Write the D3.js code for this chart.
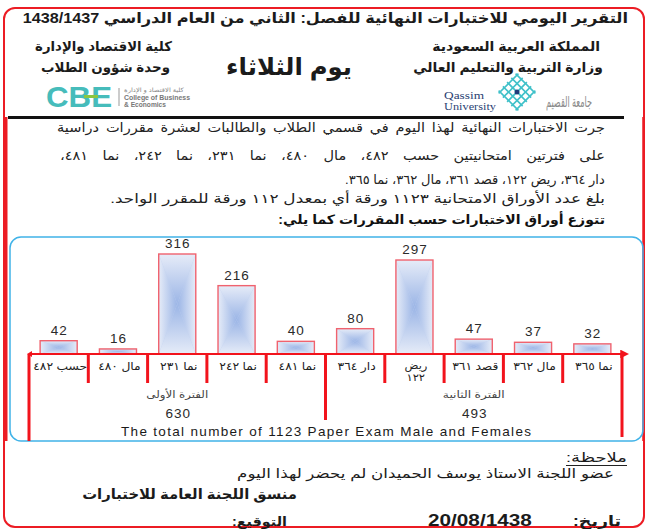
<!DOCTYPE html>
<html><head><meta charset="utf-8">
<script src="https://cdn.jsdelivr.net/npm/d3@7"></script>
<style>body{margin:0;background:#fff} svg{display:block}</style>
</head><body>
<svg id="c" width="649" height="529"></svg>
<script>
// ---------------- data ----------------
const categories = ["حسب ٤٨٢","مال ٤٨٠","نما ٢٣١","نما ٢٤٢","نما ٤٨١","دار ٣٦٤","ريض ١٢٢","قصد ٣٦١","مال ٣٦٢","نما ٣٦٥"];
const values = [42,16,316,216,40,80,297,47,37,32];
const periods = ["الفترة الأولى","الفترة الثانية"];
const periodSizes = [5,5];
const periodTotals = [630,493];
const totalCaption = "The total number of 1123 Paper Exam Male and Females";

const titleText = "التقرير اليومي للاختبارات النهائية للفصل: الثاني من العام الدراسي 1438/1437";
const headerLeft = ["كلية الاقتصاد والإدارة","وحدة شؤون الطلاب"];
const headerRight = ["المملكة العربية السعودية","وزارة التربية والتعليم العالي"];
const dayText = "يوم الثلاثاء";
const paragraph = [
  "جرت الاختبارات النهائية لهذا اليوم في قسمي الطلاب والطالبات لعشرة مقررات دراسية",
  "على فترتين امتحانيتين حسب ٤٨٢، مال ٤٨٠، نما ٢٣١، نما ٢٤٢، نما ٤٨١،",
  "دار ٣٦٤، ريض ١٢٢، قصد ٣٦١، مال ٣٦٢، نما ٣٦٥.",
  "بلغ عدد الأوراق الامتحانية ١١٢٣ ورقة أي بمعدل ١١٢ ورقة للمقرر الواحد.",
  "تتوزع أوراق الاختبارات حسب المقررات كما يلي:"
];
const noteTitle = "ملاحظة:";
const noteText = "عضو اللجنة الاستاذ يوسف الحميدان لم يحضر لهذا اليوم";
const coordText = "منسق اللجنة العامة للاختبارات";
const dateLabel = "تاريخ:";
const dateValue = "20/08/1438";
const signLabel = "التوقيع:";

// ---------------- helpers ----------------
const FONT = "'Liberation Sans', Arial, 'DejaVu Sans', sans-serif";
const svg = d3.select("#c");
const defs = svg.append("defs");

function T(parent, s, o) {
  const t = parent.append("text")
    .attr("x", o.cx).attr("y", o.y)
    .attr("text-anchor", o.anchor || "middle")
    .attr("font-family", o.family || FONT)
    .attr("font-size", o.size)
    .attr("font-weight", o.weight || "normal")
    .attr("fill", o.fill || "#1b1b1b")
    .attr("direction", o.ltr ? "ltr" : "rtl")
    .text(s);
  if (o.ls) t.attr("letter-spacing", o.ls);
  if (o.w) t.attr("textLength", o.w).attr("lengthAdjust", o.adjust || "spacingAndGlyphs");
  return t;
}
// text fitted between l and r (measured ink box) by a horizontal scale transform
function box(parent, s, l, r, y, size, weight, extra) {
  const o = Object.assign({cx:0, y:0, size:size, weight:weight, anchor:"start"}, extra||{});
  const t = T(parent, s, o);
  const bb = t.node().getBBox();
  const sx = bb.width > 0 ? (r - l) / bb.width : 1;
  t.attr("transform", `translate(${l - bb.x*sx},${y}) scale(${sx},1)`);
  return t;
}
// justified right-to-left line: words keep a fixed glyph scale, spaces stretch
function justify(parent, s, l, r, y, size, weight, gs, extra) {
  const g = parent.append("g");
  const items = s.split(" ").map(tok => {
    const t = T(g, tok, Object.assign({cx:0, y:0, size:size, weight:weight, anchor:"start"}, extra||{}));
    return {t, bb: t.node().getBBox()};
  });
  const W = d3.sum(items, d => d.bb.width) * gs;
  const gapW = (r - l - W) / Math.max(1, items.length - 1);
  let cursor = r;
  items.forEach(d => {
    d.t.attr("transform", `translate(${cursor - (d.bb.x + d.bb.width)*gs},${y}) scale(${gs},1)`);
    cursor -= d.bb.width * gs + gapW;
  });
  return g;
}
// text centred at cx with a horizontal scale factor
function centred(parent, s, cx, y, sx, o) {
  const t = T(parent, s, Object.assign({cx:0, y:0, anchor:"start"}, o));
  const bb = t.node().getBBox();
  t.attr("transform", `translate(${cx - (bb.x + bb.width/2)*sx},${y}) scale(${sx},1)`);
  return t;
}

// ---------------- page frame ----------------
svg.append("rect").attr("x",4).attr("y",8).attr("width",640).attr("height",519)
  .attr("rx",11).attr("fill","none").attr("stroke","#ec1c24").attr("stroke-width",2);
svg.append("line").attr("x1",5.5).attr("x2",5.5).attr("y1",117).attr("y2",441)
  .attr("stroke","#ec1c24").attr("stroke-width",4);
svg.append("line").attr("x1",643.5).attr("x2",643.5).attr("y1",117).attr("y2",441)
  .attr("stroke","#ec1c24").attr("stroke-width",2.5);

// ---------------- header ----------------
const hdr = svg.append("g");
box(hdr, titleText, 22, 628, 23, 14.5, "bold");
box(hdr, headerLeft[0], 35, 172, 51, 13.5, "bold");
box(hdr, headerLeft[1], 41, 170, 72, 13.5, "bold");
box(hdr, headerRight[0], 432, 600, 51, 13.5, "bold");
box(hdr, headerRight[1], 413, 603, 72, 13.5, "bold");
box(hdr, dayText, 226, 352, 75, 24, "bold");

// CBE logo
const cbe = svg.append("g");
T(cbe, "CBE", {cx:46, y:107, anchor:"start", size:30, weight:"bold", fill:"#46bcbb", ltr:true, w:66});
cbe.append("rect").attr("x",84).attr("y",95).attr("width",14).attr("height",3).attr("fill","#8cc63f");
cbe.append("line").attr("x1",119).attr("x2",119).attr("y1",88).attr("y2",106).attr("stroke","#999").attr("stroke-width",1);
box(cbe, "كلية الاقتصاد و الإدارة", 124, 184, 92, 6, "normal", {fill:"#888"});
T(cbe, "College of Business", {cx:124, y:99.5, anchor:"start", size:6.5, weight:"bold", fill:"#777", ltr:true, w:66});
T(cbe, "& Economics", {cx:124, y:106.5, anchor:"start", size:6.5, weight:"bold", fill:"#777", ltr:true, w:42});

// Qassim logo
const qu = svg.append("g");
T(qu, "Qassim", {cx:444, y:99, anchor:"start", size:11, fill:"#2b3f73", ltr:true, family:"'Liberation Serif', serif", w:40});
T(qu, "University", {cx:444, y:110, anchor:"start", size:11, fill:"#2b3f73", ltr:true, family:"'Liberation Serif', serif", w:52});
const lat = qu.append("g").attr("transform","translate(517,92) rotate(45)");
[-12,-6,0,6,12].forEach(k => {
  lat.append("line").attr("x1",-14).attr("x2",14).attr("y1",k).attr("y2",k).attr("stroke","#3fc1c9").attr("stroke-width",1.6);
  lat.append("line").attr("y1",-14).attr("y2",14).attr("x1",k).attr("x2",k).attr("stroke","#3fc1c9").attr("stroke-width",1.6);
});
qu.append("circle").attr("cx",517).attr("cy",92).attr("r",2.5).attr("fill","#1d3b7a");
box(qu, "جامعة القصيم", 546, 592, 107, 15, "normal", {fill:"#8a8a8a"});

// black rule
svg.append("line").attr("x1",8).attr("x2",624).attr("y1",117.5).attr("y2",117.5)
  .attr("stroke","#111").attr("stroke-width",3);

// ---------------- paragraph ----------------
const par = svg.append("g");
justify(par, paragraph[0], 57, 605, 132, 13, "normal", 1.12, {fill:"#222"});
justify(par, paragraph[1], 60, 605, 160, 13, "normal", 1.12, {fill:"#222"});
box(par, paragraph[2], 345, 605, 184, 13, "normal", {fill:"#222"});
box(par, paragraph[3], 110, 605, 203, 13, "normal", {fill:"#222"});
box(par, paragraph[4], 278, 605, 224, 13, "bold", {fill:"#111"});

// ---------------- chart ----------------
svg.append("rect").attr("x",10).attr("y",237).attr("width",633).attr("height",204)
  .attr("rx",11).attr("fill","none").attr("stroke","#40b3e8").attr("stroke-width",1.5);

const axisY = 354;
const x = d3.scaleBand().domain(categories).range([29, 622]).paddingInner(0.375).paddingOuter(0.1875);
const y = d3.scaleLinear().domain([0, 316]).range([axisY, 254]);
const step = x.step(), bw = x.bandwidth();
const gap = (step - bw) / 2;

// gradients (rectangular "from centre" look)
const EDGE = "#e6ecf8", CENTER = "#9bb5e6";
function lg(id, x1, y1, x2, y2) {
  const g = defs.append("linearGradient").attr("id", id)
    .attr("x1", x1).attr("y1", y1).attr("x2", x2).attr("y2", y2);
  g.append("stop").attr("offset", 0).attr("stop-color", EDGE);
  g.append("stop").attr("offset", 1).attr("stop-color", CENTER);
}
lg("gT",0,0,0,1); lg("gB",0,1,0,0); lg("gL",0,0,1,0); lg("gR",1,0,0,0);

const chart = svg.append("g");
const bars = chart.selectAll("g.bar").data(categories.map((c,i)=>({c, v:values[i]})))
  .join("g").attr("class","bar");
bars.each(function(d){
  const g = d3.select(this);
  const x0 = x(d.c), x1 = x0 + bw, y0 = y(d.v), y1 = y(0);
  const cx = (x0+x1)/2, cy = (y0+y1)/2;
  g.append("rect").attr("x",x0).attr("y",y0).attr("width",bw).attr("height",y1-y0).attr("fill","#c3d2ef");
  const tri = (pts, id) => g.append("polygon").attr("points", pts.map(p=>p.join(",")).join(" ")).attr("fill", `url(#${id})`);
  tri([[x0,y0],[x1,y0],[cx,cy]], "gT");
  tri([[x0,y1],[x1,y1],[cx,cy]], "gB");
  tri([[x0,y0],[x0,y1],[cx,cy]], "gL");
  tri([[x1,y0],[x1,y1],[cx,cy]], "gR");
  g.append("rect").attr("x",x0).attr("y",y0).attr("width",bw).attr("height",y1-y0)
    .attr("fill","none").attr("stroke","#f0626e").attr("stroke-width",1.4);
  T(g, String(d.v), {cx:cx+0.5, y:y0-6, size:13.5, fill:"#2a2a2a", ltr:true, ls:1});
});

// axis line with arrows
const RED = "#f2131c";
defs.append("marker").attr("id","arR").attr("viewBox","0 0 10 10").attr("refX",2).attr("refY",5)
  .attr("markerWidth",4).attr("markerHeight",4).attr("orient","auto")
  .append("path").attr("d","M0,0 L10,5 L0,10 z").attr("fill",RED);
chart.append("line").attr("x1", x.range()[0]).attr("x2", x.range()[1])
  .attr("y1", axisY).attr("y2", axisY).attr("stroke", RED).attr("stroke-width", 2.2)
  .attr("marker-end","url(#arR)");
chart.append("path").attr("d", `M${x.range()[0]-2},${axisY} l5,-3 l0,6 z`).attr("fill", RED);

// dividers
const bounds = [0];
periodSizes.reduce((a,n)=>{ bounds.push(a+n); return a+n; }, 0);
const divX = i => i < categories.length ? x(categories[i]) - gap : x(categories[categories.length-1]) + bw + gap;
d3.range(categories.length + 1).forEach(i => {
  let bottom = 383;
  if (bounds.includes(i)) bottom = (i === 0) ? 441 : (i === categories.length ? 437 : 420);
  chart.append("line").attr("x1", divX(i)).attr("x2", divX(i))
    .attr("y1", axisY).attr("y2", bottom).attr("stroke", RED).attr("stroke-width", 3);
});

// category labels
categories.forEach(c => {
  const cx = x(c) + bw/2 + 1.5;
  const parts = c.split(" ");
  if (c.startsWith("ريض")) {
    centred(chart, parts[0], cx, 369, 1.1, {size:10.5, fill:"#222"});
    centred(chart, parts[1], cx, 380.5, 1.1, {size:10.5, fill:"#222"});
  } else {
    centred(chart, c, cx, 370, 1.12, {size:11, fill:"#222"});
  }
});

// period labels
periods.forEach((p, k) => {
  const a = divX(bounds[k]), b = divX(bounds[k+1]);
  const cx = (a+b)/2;
  box(chart, p, cx-31, cx+31, 398, 10, "normal", {fill:"#444"});
  T(chart, String(periodTotals[k]), {cx:cx+1, y:418, size:13.5, fill:"#2a2a2a", ltr:true, ls:1});
});

T(chart, totalCaption, {cx:326, y:436, size:13.5, fill:"#1a1a1a", ltr:true, w:410, adjust:"spacing"});

// ---------------- footer ----------------
const ft = svg.append("g");
box(ft, noteTitle, 566, 627, 462, 13, "normal");
ft.append("line").attr("x1",566).attr("x2",627).attr("y1",465.5).attr("y2",465.5).attr("stroke","#222").attr("stroke-width",1);
box(ft, noteText, 237, 614, 478, 13, "normal");
box(ft, coordText, 82, 297, 499, 14, "bold");
box(ft, dateLabel, 573, 621, 526, 14, "bold");
box(ft, dateValue, 428, 532, 526, 16, "bold", {ltr:true});
box(ft, signLabel, 232, 287, 526, 13, "bold");
</script>
</body></html>
